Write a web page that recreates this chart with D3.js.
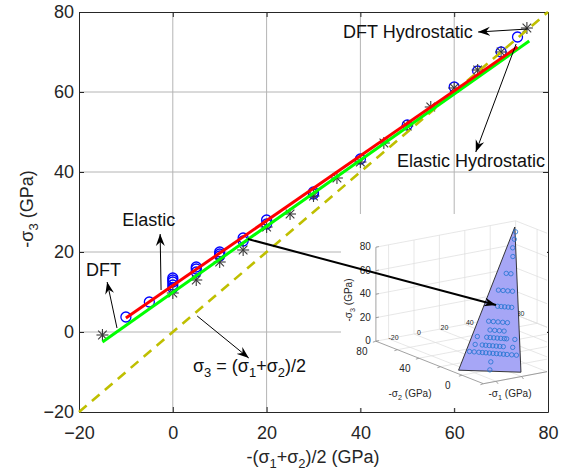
<!DOCTYPE html>
<html>
<head>
<meta charset="utf-8">
<script src="https://cdn.jsdelivr.net/npm/d3@7"></script>
<style>
body { margin: 0; background: #fff; }
text { font-family: Arial, "Liberation Sans", Helvetica, sans-serif; }
</style>
</head>
<body>
<svg id="chart" width="570" height="475"></svg>
<script>
// ---- main plot data ----
const tickVals = [-20, 0, 20, 40, 60, 80];

const dftX = [-15, 0, 5, 10, 15, 20, 25, 30, 35, 40, 45, 50, 55, 60, 65, 70, 75.5];
const dftY = [-0.75, 9.75, 13, 17.5, 20.5, 26.25, 29.5, 34, 38.5, 42.5, 47.25, 51.5, 56.25, 61, 65.5, 70, 76];

const elasticX = [-10, -5, 0, 0, 0, 0, 0, 5, 5, 5, 10, 10, 10, 15, 15, 20, 20, 30, 30, 40, 50, 60, 65, 70, 73.5];
const elasticY = [3.75, 7.5, 11, 11.75, 12.5, 13, 13.5, 15, 15.75, 16.25, 19, 19.5, 20, 22.75, 23.5, 27, 28, 34.5, 35, 43.25, 51.75, 61.25, 65.25, 70, 73.75];

const dftFitX = [-15, 76];
const dftFitY = [-2.5, 72.75];
const elasticFitX = [-10, 73.5];
const elasticFitY = [3.5, 71.25];
const hydroX = [-20, 80];
const hydroY = [-20, 80];

// ---- inset data (-sigma1, -sigma2, -sigma3 in GPa) ----
const insetMean = [-10, -5, 0, 5, 10, 15, 20, 30, 40, 50, 60, 65, 70, 75];
const insetS3 = [3.5, 7.5, 12, 15.5, 19.5, 23, 27.5, 35, 43, 52, 61, 65.5, 70, 73.5];
const insetOffsets = [
    [-3.5],
    [-3.5],
    [-13, -11, -9, -7.5, -6, -4.5, -3, -1.5, 0, 1.5, 3, 5, 7],
    [-11, -8, -6.5, -5, -3.5, -2, -0.5, 1, 5],
    [-10.5, -6.5, -5, -3.5, -2, -0.5, 1, 2, 5.5],
    [-5.5, -3.5, -1.5, 0.5],
    [-6.5, -4.5, -2.5, -0.5, 1.5],
    [-3.5, -2, -0.5, 1, 2.5],
    [-4, -2, 0, 2],
    [-1.5, 0.5],
    [0.5], [0], [0.3], [0.4]
];
const insetTriangle = [[-25, 9, 0], [5.5, -13, 0], [76, 76, 77]];
const insetS1Ticks = [-20, 0, 20, 40, 60, 80];
const insetS2Ticks = [80, 40, 0];
const insetS3Ticks = [0, 20, 40, 60, 80];

const svg = d3.select("#chart");
const ink = "#262626";

const x = d3.scaleLinear().domain([-20, 80]).range([79, 548]);
const y = d3.scaleLinear().domain([-20, 80]).range([412, 12]);

// arrow heads
const defs = svg.append("defs");
defs.append("marker")
    .attr("id", "head")
    .attr("viewBox", "-12 -5 13 10")
    .attr("markerUnits", "userSpaceOnUse")
    .attr("markerWidth", 13)
    .attr("markerHeight", 10)
    .attr("refX", 0).attr("refY", 0)
    .attr("orient", "auto")
    .append("path")
    .attr("d", "M0,0L-12,-4.5L-8,0L-12,4.5Z")
    .attr("fill", "#000");
defs.append("clipPath").attr("id", "insetclip")
    .append("rect").attr("x", 341).attr("y", 214).attr("width", 206).attr("height", 194);

// grid
for (var i = 1; i < tickVals.length - 1; i++) {
    svg.append("line")
        .attr("x1", x(tickVals[i])).attr("x2", x(tickVals[i]))
        .attr("y1", y(-20)).attr("y2", y(80))
        .attr("stroke", "#b4b4b4").attr("stroke-width", 1);
    svg.append("line")
        .attr("x1", x(-20)).attr("x2", x(80))
        .attr("y1", y(tickVals[i])).attr("y2", y(tickVals[i]))
        .attr("stroke", "#b4b4b4").attr("stroke-width", 1);
}

// axes
function styleAxis(g) {
    g.select(".domain").attr("stroke", ink);
    g.selectAll(".tick line").attr("stroke", ink);
    g.selectAll(".tick text").attr("fill", ink).style("font-size", "18px")
        .style("font-family", "Arial, 'Liberation Sans', sans-serif");
}
svg.append("g").attr("transform", "translate(0," + y(-20) + ")")
    .call(d3.axisBottom(x).tickValues(tickVals).tickSizeInner(-5).tickSizeOuter(0).tickPadding(14))
    .call(styleAxis);
svg.append("g").attr("transform", "translate(0," + y(80) + ")")
    .call(d3.axisTop(x).tickValues(tickVals).tickSizeInner(-5).tickSizeOuter(0).tickFormat(""))
    .call(styleAxis);
svg.append("g").attr("transform", "translate(" + x(-20) + ",0)")
    .call(d3.axisLeft(y).tickValues(tickVals).tickSizeInner(-5).tickSizeOuter(0).tickPadding(5))
    .call(styleAxis);
svg.append("g").attr("transform", "translate(" + x(80) + ",0)")
    .call(d3.axisRight(y).tickValues(tickVals).tickSizeInner(-5).tickSizeOuter(0).tickFormat(""))
    .call(styleAxis);

// text with subscripts: parts = [[text, isSub], ...]
function richText(sel, parts, size) {
    var shift = 0;
    parts.forEach(function (p) {
        var t = sel.append("tspan").text(p[0]);
        if (p[1]) {
            t.attr("dy", size * 0.3).style("font-size", (size * 0.72) + "px");
            shift = size * 0.3;
        } else if (shift) {
            t.attr("dy", -shift);
            shift = 0;
        }
    });
    return sel;
}

// axis titles
richText(svg.append("text")
    .attr("x", 313).attr("y", 463)
    .attr("text-anchor", "middle").attr("fill", ink)
    .style("font-size", "18px"),
    [["-(\u03c3", false], ["1", true], ["+\u03c3", false], ["2", true], [")/2 (GPa)", false]], 18);

richText(svg.append("text")
    .attr("transform", "translate(33,209) rotate(-90)")
    .attr("text-anchor", "middle").attr("fill", ink)
    .style("font-size", "18px"),
    [["-\u03c3", false], ["3", true], [" (GPa)", false]], 18);

// ---- main series ----
const circles = elasticX.map((v, k) => [v, elasticY[k]]);
svg.selectAll(".el").data(circles).enter().append("circle")
    .attr("cx", d => x(d[0])).attr("cy", d => y(d[1])).attr("r", 5)
    .attr("fill", "none").attr("stroke", "#0000ff").attr("stroke-width", 1.3);

const stars = dftX.map((v, k) => [v, dftY[k]]);
const starG = svg.selectAll(".st").data(stars).enter().append("g")
    .attr("transform", d => "translate(" + x(d[0]) + "," + y(d[1]) + ")")
    .attr("stroke", "#3a3a3a").attr("stroke-width", 1.1);
starG.append("line").attr("x1", -6).attr("x2", 6);
starG.append("line").attr("y1", -6).attr("y2", 6);
starG.append("line").attr("x1", -4.3).attr("y1", -4.3).attr("x2", 4.3).attr("y2", 4.3);
starG.append("line").attr("x1", -4.3).attr("y1", 4.3).attr("x2", 4.3).attr("y2", -4.3);

const line = d3.line().x(d => x(d[0])).y(d => y(d[1]));
svg.append("path").datum(hydroX.map((v, k) => [v, hydroY[k]]))
    .attr("d", line).attr("fill", "none")
    .attr("stroke", "#bfbf00").attr("stroke-width", 2.6).attr("stroke-dasharray", "10,7");
svg.append("path").datum(dftFitX.map((v, k) => [v, dftFitY[k]]))
    .attr("d", line).attr("fill", "none")
    .attr("stroke", "#00ff00").attr("stroke-width", 3);
svg.append("path").datum(elasticFitX.map((v, k) => [v, elasticFitY[k]]))
    .attr("d", line).attr("fill", "none")
    .attr("stroke", "#ff0000").attr("stroke-width", 3);

// ---- inset (3D view) ----
const inZ = d3.scaleLinear().domain([0, 80]).range([368, 274]);
const a2x = d3.scaleLinear().domain([0, 100]).range([0, 127]);
const a2y = d3.scaleLinear().domain([0, 100]).range([0, -24]);
const b2x = d3.scaleLinear().domain([0, 100]).range([0, -107.5]);
const b2y = d3.scaleLinear().domain([0, 100]).range([0, -42.5]);
function proj(a, b, c) {
    return [500 + a2x(a) + b2x(b), inZ(c) + a2y(a) + b2y(b)];
}

const inset = svg.append("g").attr("clip-path", "url(#insetclip)");
inset.append("rect").attr("x", 341).attr("y", 214).attr("width", 206).attr("height", 194).attr("fill", "#fff");

function seg(p, q, col, w) {
    inset.append("line")
        .attr("x1", p[0]).attr("y1", p[1]).attr("x2", q[0]).attr("y2", q[1])
        .attr("stroke", col).attr("stroke-width", w);
}
const gridCol = "#dcdcdc";
insetS1Ticks.forEach(a => {
    seg(proj(a, -20, 0), proj(a, 80, 0), gridCol, 0.7);
    seg(proj(a, 80, 0), proj(a, 80, 80), gridCol, 0.7);
});
[-20, 0, 20, 40, 60].forEach(b => {
    seg(proj(-30, b, 0), proj(80, b, 0), gridCol, 0.7);
    seg(proj(80, b, 0), proj(80, b, 80), gridCol, 0.7);
});
insetS3Ticks.forEach(c => {
    seg(proj(-30, 80, c), proj(80, 80, c), gridCol, 0.7);
    seg(proj(80, -20, c), proj(80, 80, c), gridCol, 0.7);
});
// axis edges
seg(proj(-30, 80, 0), proj(-30, 80, 80), "#8a8a8a", 0.8);
seg(proj(-30, 80, 0), proj(-30, -20, 0), "#8a8a8a", 0.8);
seg(proj(-30, -20, 0), proj(80, -20, 0), "#8a8a8a", 0.8);
insetS3Ticks.forEach(c => {
    const p = proj(-30, 80, c);
    seg(p, [p[0] + 3, p[1] - 0.6], "#8a8a8a", 0.8);
});
insetS2Ticks.concat([60, 20, -20]).forEach(b => {
    const p = proj(-30, b, 0);
    seg(p, [p[0] - 3, p[1] + 1], "#8a8a8a", 0.8);
});
[-20, 0, 20, 40].forEach(a => {
    const p = proj(a, -20, 0);
    seg(p, [p[0] + 2, p[1] + 2.5], "#8a8a8a", 0.8);
});

// inset tick labels
insetS3Ticks.forEach(c => {
    const p = proj(-30, 80, c);
    inset.append("text").text(c).attr("x", p[0] - 5).attr("y", p[1] + 3)
        .attr("text-anchor", "end").attr("fill", ink).style("font-size", "10px");
});
insetS2Ticks.forEach(b => {
    const p = proj(-30, b, 0);
    inset.append("text").text(b).attr("x", p[0] - 14).attr("y", p[1] + 14)
        .attr("text-anchor", "middle").attr("fill", ink).style("font-size", "10px");
});
insetS1Ticks.forEach(a => {
    const p = proj(a, 80, 0);
    inset.append("text").text(a).attr("x", p[0] + 5).attr("y", p[1] + 1)
        .attr("text-anchor", "middle").attr("fill", ink).style("font-size", "7px");
});
richText(inset.append("text")
    .attr("transform", "translate(352,300) rotate(-90)")
    .attr("text-anchor", "middle").attr("fill", ink).style("font-size", "10px"),
    [["-\u03c3", false], ["3", true], [" (GPa)", false]], 10);
richText(inset.append("text")
    .attr("x", 410).attr("y", 397)
    .attr("text-anchor", "middle").attr("fill", ink).style("font-size", "10px"),
    [["-\u03c3", false], ["2", true], [" (GPa)", false]], 10);
richText(inset.append("text")
    .attr("x", 510).attr("y", 397)
    .attr("text-anchor", "middle").attr("fill", ink).style("font-size", "10px"),
    [["-\u03c3", false], ["1", true], [" (GPa)", false]], 10);

// inset triangle and points
inset.append("path")
    .attr("d", "M" + insetTriangle.map(v => proj(v[0], v[1], v[2]).join(",")).join("L") + "Z")
    .attr("fill", "#a6a6f6").attr("stroke", "#222").attr("stroke-width", 0.9);
const insetPts = [];
insetMean.forEach((m, k) => {
    insetOffsets[k].forEach(d => insetPts.push(proj(m + d, m - d, insetS3[k])));
});
inset.selectAll(".ip").data(insetPts).enter().append("circle")
    .attr("cx", d => d[0]).attr("cy", d => d[1]).attr("r", 2.2)
    .attr("fill", "none").attr("stroke", "#1f73d0").attr("stroke-width", 0.8);

// ---- annotations ----
function arrow(x1, y1, x2, y2, w) {
    svg.append("line")
        .attr("x1", x(x1)).attr("y1", y(y1)).attr("x2", x(x2)).attr("y2", y(y2))
        .attr("stroke", "#000").attr("stroke-width", w)
        .attr("marker-end", "url(#head)");
}
arrow(75.7, 75.75, 65.1, 75, 1);
arrow(73.2, 72, 64.6, 45, 1);
arrow(-2.5, 10.5, -2.7, 24.5, 1);
arrow(-11.9, 1, -14, 12.5, 1);
arrow(5.2, 4, 16.2, -6.5, 1);
arrow(16, 23.25, 68.9, 6.75, 2);

function label(str, xv, yv) {
    svg.append("text").text(str)
        .attr("x", x(xv)).attr("y", y(yv))
        .attr("fill", "#111").style("font-size", "18px");
}
label("DFT Hydrostatic", 36.3, 73.5);
label("Elastic Hydrostatic", 47.8, 41.25);
label("Elastic", -10.8, 26.5);
label("DFT", -18.5, 14);
richText(svg.append("text")
    .attr("x", x(4.3)).attr("y", y(-10))
    .attr("fill", "#111").style("font-size", "18px"),
    [["\u03c3", false], ["3", true], [" = (\u03c3", false], ["1", true], ["+\u03c3", false], ["2", true], [")/2", false]], 18);
</script>
</body>
</html>
